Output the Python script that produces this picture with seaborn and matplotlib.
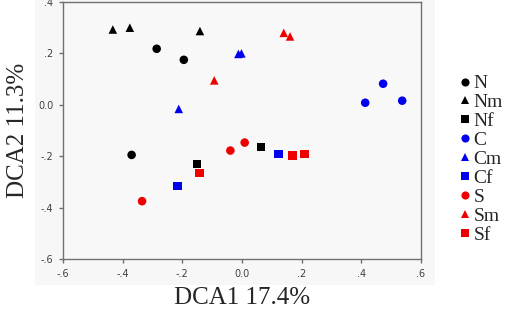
import matplotlib
matplotlib.use("Agg")
import matplotlib.pyplot as plt
import matplotlib.patches as mpatches
from matplotlib.ticker import FuncFormatter
import seaborn as sns
import pandas as pd

groups = ["N", "Nm", "Nf", "C", "Cm", "Cf", "S", "Sm", "Sf"]
colors = ["black", "black", "black", "#0000ee", "#0000ee", "#0000ee", "#ee0000", "#ee0000", "#ee0000"]
markers = ["o", "^", "s", "o", "^", "s", "o", "^", "s"]

dca1 = {
    "N": [-0.286, -0.195, -0.370],
    "Nm": [-0.433, -0.376, -0.141],
    "Nf": [-0.151, 0.063],
    "C": [0.413, 0.473, 0.537],
    "Cm": [-0.212, -0.012, -0.002],
    "Cf": [-0.217, 0.122],
    "S": [-0.335, -0.039, 0.009],
    "Sm": [-0.093, 0.140, 0.161],
    "Sf": [-0.142, 0.169, 0.209],
}
dca2 = {
    "N": [0.218, 0.175, -0.195],
    "Nm": [0.293, 0.300, 0.287],
    "Nf": [-0.231, -0.165],
    "C": [0.008, 0.082, 0.016],
    "Cm": [-0.016, 0.198, 0.200],
    "Cf": [-0.316, -0.192],
    "S": [-0.375, -0.178, -0.147],
    "Sm": [0.095, 0.280, 0.266],
    "Sf": [-0.265, -0.198, -0.192],
}

rows = []
for g in groups:
    for a, b in zip(dca1[g], dca2[g]):
        rows.append({"DCA1": a, "DCA2": b, "group": g})
df = pd.DataFrame(rows)

sns.set_style("white")
fig = plt.figure(figsize=(5.07, 3.27), dpi=100)
fig.patch.set_facecolor("white")
# light gray panel behind plot (SPSS style)
fig.patches.append(mpatches.Rectangle((35 / 507, 1 - 285 / 327), (435 - 35) / 507, 285 / 327,
                                      transform=fig.transFigure, facecolor="#f7f7f7",
                                      edgecolor="none", zorder=-10))
ax = fig.add_axes([63 / 507, 1 - 259 / 327, (421 - 63) / 507, (259 - 2) / 327])
ax.set_facecolor("#f8f8f8")
ax.set_zorder(1)

sns.scatterplot(data=df, x="DCA1", y="DCA2", hue="group", style="group",
                hue_order=groups, style_order=groups,
                palette=dict(zip(groups, colors)), markers=dict(zip(groups, markers)),
                s=38, edgecolor="none", linewidth=0, ax=ax, legend=True)

ax.set_xlim(-0.6, 0.6)
ax.set_ylim(-0.6, 0.4)
ax.set_xticks([-0.6, -0.4, -0.2, 0.0, 0.2, 0.4, 0.6])
ax.set_yticks([-0.6, -0.4, -0.2, 0.0, 0.2, 0.4])

def fmt(v, pos):
    if abs(v) < 1e-9:
        return "0.0"
    s = f"{v:.1f}"
    return s.replace("0.", ".")

ax.xaxis.set_major_formatter(FuncFormatter(fmt))
ax.yaxis.set_major_formatter(FuncFormatter(fmt))
for sp in ax.spines.values():
    sp.set_color("#707070")
    sp.set_linewidth(1.0)
ax.tick_params(axis="both", direction="out", length=3, width=1, color="#707070",
               labelsize=7, labelcolor="#404040", pad=4)
ax.tick_params(top=False, right=False, bottom=True, left=True)

serif = ["Liberation Serif", "DejaVu Serif"]
ax.set_xlabel("")
ax.set_ylabel("")
fig.text(242 / 507, 1 - 298 / 327, "DCA1 17.4%", ha="center", va="center",
         family=serif, fontsize=18)
fig.text(18 / 507, 1 - 130 / 327, "DCA2 11.3%", ha="center", va="center",
         rotation=90, family=serif, fontsize=18)

handles, labels = ax.get_legend_handles_labels()
ax.get_legend().remove()
leg = fig.legend(handles, labels, loc="upper left", bbox_to_anchor=(448 / 507, 1 - 65 / 327),
                 frameon=False, prop={"family": serif, "size": 14},
                 handletextpad=0.1, labelspacing=0.07, borderpad=0, handlelength=0.7,
                 markerscale=0.95)

fig.savefig("out.png", dpi=100, facecolor="white")
